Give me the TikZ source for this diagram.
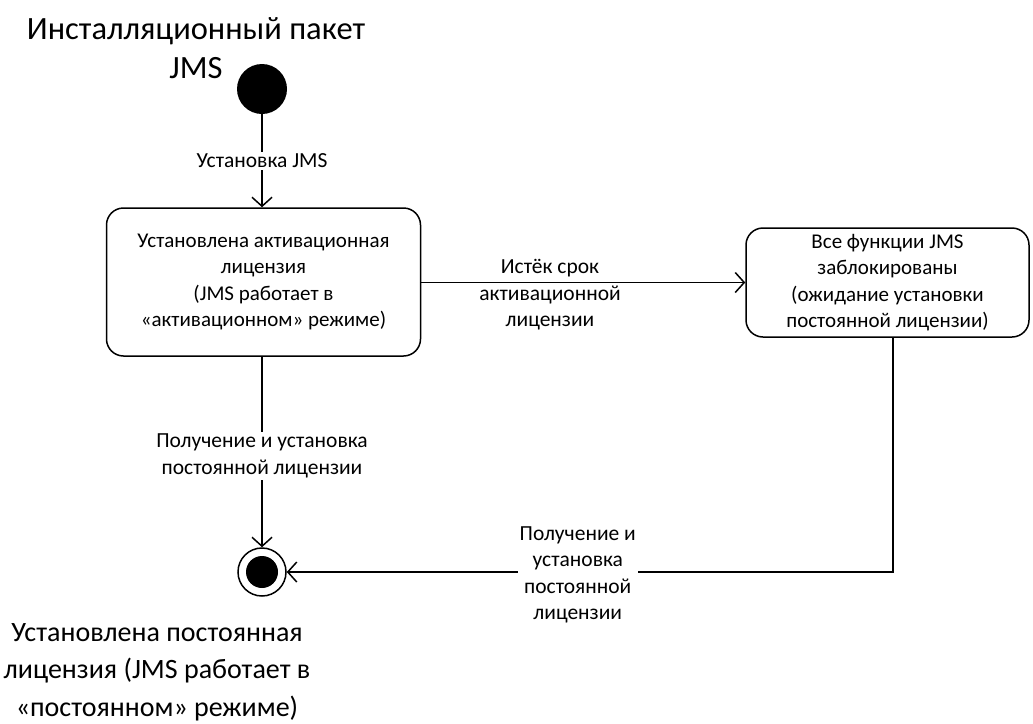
\documentclass[tikz,border=0pt]{standalone}
\usepackage{fontspec}
\setmainfont{Carlito}
\usetikzlibrary{arrows.meta, positioning}
\tikzset{
  statebox/.style={draw, line width=1.5pt, rounded corners=17pt,
    align=center, inner sep=0pt, font=\fontsize{21}{26.5}\selectfont},
  initdot/.style={circle, fill=black, minimum size=50pt, inner sep=0pt},
  finaldot/.style={circle, draw, line width=1.5pt, fill=white,
    minimum size=48pt, inner sep=0pt},
  finalcore/.style={circle, fill=black, minimum size=32pt, inner sep=0pt},
  translabel/.style={align=center, inner sep=2pt,
    font=\fontsize{21.5}{26.5}\selectfont},
  biglabel/.style={align=center, inner sep=0pt,
    font=\fontsize{32.5}{38.5}\selectfont},
  flow/.style={line width=1.5pt, -{Straight Barb[length=9pt, width=20pt, line width=1.5pt]}}
}
\begin{document}
\begin{tikzpicture}[x=1pt, y=-1pt]
  \useasboundingbox (0,0) rectangle (1033,723);
  % states
  \node[initdot] (init) at (262,89) {};
  \node[statebox, minimum width=314pt, minimum height=148pt] (active) at (263.5,282)
    {Установлена активационная\\лицензия\\(JMS работает в\\«активационном» режиме)};
  \node[statebox, minimum width=283pt, minimum height=109pt] (blocked) at (887.5,282.5)
    {Все функции JMS\\заблокированы\\(ожидание установки\\постоянной лицензии)};
  \node[finaldot] (final) at (262,572) {};
  \node[finalcore] (core) at (final) {};
  \coordinate (corner) at (893,572);
  % captions
  \node[biglabel] (title) at (196,48) {Инсталляционный пакет\\JMS};
  \node[biglabel, font=\fontsize{28}{37.5}\selectfont] (result) at (157,672)
    {Установлена постоянная\\лицензия (JMS работает в\\«постоянном» режиме)};
  % transitions
  \draw[flow] (init) -- (init |- active.north)
    node[translabel, fill=white, pos=0.5] (install) {Установка JMS};
  \draw[flow] (active.east |- blocked.west) -- (blocked.west);
  \node[translabel] (expired) at (550,295)
    {Истёк срок\\активационной\\лицензии};
  \draw[flow] (init |- active.south) -- (final)
    node[translabel, fill=white, pos=0.52] (getperm) {Получение и установка\\постоянной лицензии};
  \draw[flow] (blocked.south -| corner) -- (corner) -- (final)
    node[translabel, fill=white, pos=0.52, yshift=-3pt] (getperm2)
    {Получение и\\установка\\постоянной\\лицензии};
\end{tikzpicture}
\end{document}
